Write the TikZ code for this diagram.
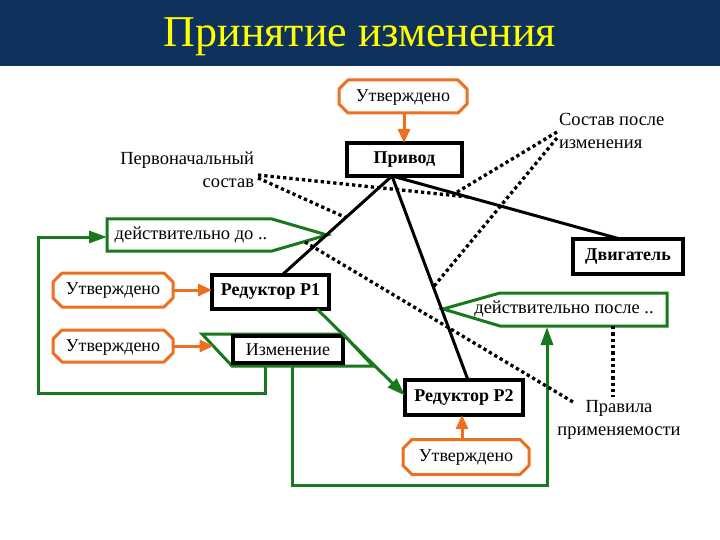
\documentclass[tikz,border=0pt]{standalone}
\usepackage{fontspec}
\setmainfont{Liberation Serif}
\usetikzlibrary{arrows.meta}
\definecolor{navy}{RGB}{14,50,92}
\definecolor{gr}{RGB}{24,120,30}
\definecolor{orng}{RGB}{236,112,32}
\definecolor{ttl}{RGB}{255,255,0}
\tikzset{
  bbox/.style={draw=black,line width=3.5pt,fill=white,inner sep=0pt,outer sep=0pt,font=\fontsize{18}{22}\selectfont\bfseries},
  nbox/.style={draw=black,line width=3.5pt,fill=white,inner sep=0pt,outer sep=0pt,font=\fontsize{18}{22}\selectfont},
  obox/.style={inner sep=0pt,outer sep=0pt,font=\fontsize{18}{22}\selectfont},
  oline/.style={draw=orng,line width=3pt,fill=white,line join=round},
  lbl/.style={inner sep=0pt,outer sep=0pt,font=\fontsize{18.5}{23}\selectfont},
  gline/.style={draw=gr,line width=3pt,line join=miter},
  garrow/.style={draw=gr,line width=3pt,-{Triangle[length=18pt,width=12pt]}},
  oarrow/.style={draw=orng,line width=3pt,-{Triangle[length=14pt,width=12pt]}},
  sline/.style={draw=black,line width=3pt},
  dline/.style={draw=black,line width=3.3pt,dash pattern=on 3.3pt off 3pt},
}
\newcommand{\octbox}[1]{\draw[oline] ([xshift=9pt]#1.north west) -- ([xshift=-9pt]#1.north east) -- ([yshift=-9pt]#1.north east) -- ([yshift=9pt]#1.south east) -- ([xshift=-9pt]#1.south east) -- ([xshift=9pt]#1.south west) -- ([yshift=9pt]#1.south west) -- ([yshift=-9pt]#1.north west) -- cycle;}
\begin{document}
\begin{tikzpicture}[x=1pt,y=-1pt]
\useasboundingbox (0,0) rectangle (720,540);
\fill[navy] (0,0) rectangle (720,66);
\node[font=\fontsize{44}{50}\selectfont,text=ttl,inner sep=0pt] (title) at (360,37) {Принятие изменения};

% green shapes
\draw[gline,fill=white] (107,219) -- (272,219) -- (327,235) -- (272,251) -- (107,251) -- cycle;
\node[lbl] (vdo) at (191,235) {действительно до ..};
\coordinate (vdoL) at (107,237);
\coordinate (vdoE) at (305,242);
\draw[gline,fill=white] (443,309) -- (500,293) -- (667,293) -- (667,326) -- (500,326) -- cycle;
\node[lbl] (vpo) at (564,309) {действительно после ..};
\coordinate (vpoB) at (613,326);
\coordinate (vpoA) at (547,327);
\draw[gline] (202,334) -- (343,334) -- (373,366) -- (232,366) -- cycle;
\coordinate (parL) at (213.5,346);
\coordinate (l1) at (265,366);
\coordinate (l2) at (292,366);

% boxes (positions)
\node[bbox,minimum width=115pt,minimum height=33pt] (privod) at (404.5,159.5) {Привод};
\node[bbox,minimum width=110pt,minimum height=35pt] (dvig) at (628,256.5) {Двигатель};
\node[bbox,minimum width=117pt,minimum height=34pt] (p1) at (270.5,292) {Редуктор Р1};
\node[nbox,minimum width=110pt,minimum height=27pt] (izm) at (288,349.5) {Изменение};
\node[bbox,minimum width=118pt,minimum height=35pt] (p2) at (464,397.5) {Редуктор Р2};

% loops
\draw[garrow] (l1) -- (265,393) -- (38,393) -- (38,237) -- (vdoL);
\draw[garrow] (l2) -- (292,485) -- (547,485) -- (vpoA);
\draw[garrow] ([xshift=-12pt]p1.south east) -- ([yshift=2pt]p2.west);

% text labels
\node[lbl,align=right,anchor=east] (perv) at (254,170) {Первоначальный\\состав};
\node[lbl,align=left,anchor=west] (sost) at (559,131) {Состав после\\изменения};
\node[lbl,align=center] (prav) at (619,420) {Правила\\применяемости};

% solid links
\coordinate (pb) at ([xshift=-12.5pt]privod.south);
\coordinate (p1t) at ([xshift=11.5pt]p1.north);
\coordinate (p2t) at ([xshift=4pt]p2.north);
\coordinate (dvt) at ([xshift=-8pt]dvig.north);
\draw[sline] (pb) -- (p1t);
\draw[sline] (pb) -- (p2t);
\draw[sline] (pb) -- (dvt);
\path (pb) -- (dvt) coordinate[pos=0.333] (qa) coordinate[pos=0.276] (qc);
\path (pb) -- (p1t) coordinate[pos=0.42] (qb);
\path (pb) -- (p2t) coordinate[pos=0.544] (qd);

% dotted
\draw[dline] ([xshift=4pt,yshift=-5pt]perv.east) -- (qa);
\draw[dline] ([xshift=4pt,yshift=-8pt]perv.east) -- (qb);
\draw[dline] ([xshift=-2pt,yshift=-1pt]sost.west) -- (qc);
\draw[dline] ([xshift=-2pt,yshift=-7pt]sost.west) -- (qd);
\draw[dline] (vdoE) -- ([xshift=-46pt,yshift=18pt]prav.center);
\draw[dline] (vpoB) -- ([xshift=-6pt,yshift=23pt]prav.center);

% orange boxes
\node[obox,minimum width=128pt,minimum height=33pt] (ut1) at (403,96.5) {};
\octbox{ut1}
\node[obox] at ([yshift=-1pt]ut1.center) {Утверждено};
\node[obox,minimum width=120pt,minimum height=34pt] (ut2) at (113,290) {};
\octbox{ut2}
\node[obox] at ([yshift=-1pt]ut2.center) {Утверждено};
\node[obox,minimum width=120pt,minimum height=32pt] (ut3) at (113,346) {};
\octbox{ut3}
\node[obox] at ([yshift=-2pt]ut3.center) {Утверждено};
\node[obox,minimum width=126pt,minimum height=35pt] (ut4) at (466,457) {};
\octbox{ut4}
\node[obox] at ([yshift=-1pt]ut4.center) {Утверждено};

% orange arrows
\draw[oarrow] ([xshift=1pt]ut1.south) -- ([xshift=1pt]ut1.south |- privod.north);
\draw[oarrow] (ut2.east) -- (ut2.east -| p1.west);
\draw[oarrow] (ut3.east) -- (parL);
\draw[oarrow] ([xshift=-4pt]ut4.north) -- ([xshift=-4pt]ut4.north |- p2.south);
\end{tikzpicture}
\end{document}
